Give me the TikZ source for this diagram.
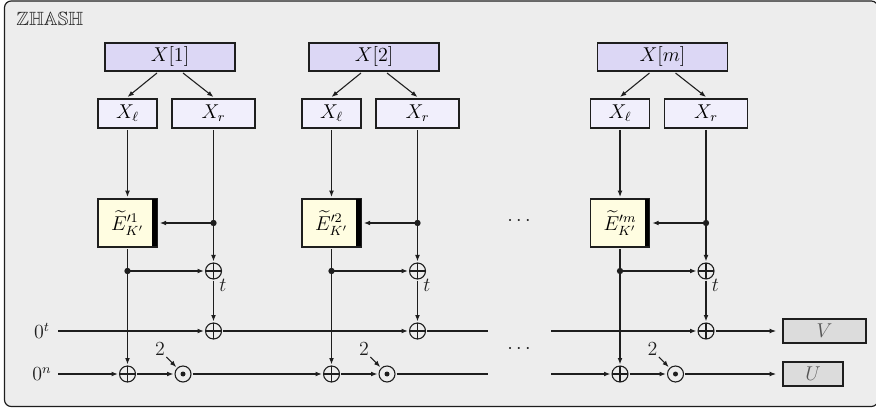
\documentclass[tikz,border=0pt]{standalone}
\usepackage{amssymb}
\usetikzlibrary{arrows.meta}
\definecolor{bgc}{HTML}{EDEDED}
\definecolor{linec}{HTML}{1E1E1E}
\definecolor{xbig}{HTML}{DCD7F5}
\definecolor{xsmall}{HTML}{F1EFFC}
\definecolor{ebox}{HTML}{FFFDE1}
\definecolor{outbox}{HTML}{DCDCDC}
\definecolor{outtext}{HTML}{555555}
\tikzset{
  every node/.append style={font=\fontsize{11.5}{14}\selectfont},
  conn/.style={draw=linec, line width=0.65pt},
  arr/.style={conn, -{Latex[length=3.8pt,width=2.9pt]}},
  bigbox/.style={draw=linec, line width=0.65pt, fill=xbig, minimum width=78pt, minimum height=16.8pt, inner sep=0pt, outer sep=1.2pt},
  lbox/.style={draw=linec, line width=0.65pt, fill=xsmall, minimum width=35.4pt, minimum height=17.4pt, inner sep=0pt, outer sep=1.2pt},
  rbox/.style={draw=linec, line width=0.65pt, fill=xsmall, minimum width=49.8pt, minimum height=17.4pt, inner sep=0pt, outer sep=1.2pt},
  ebx/.style={draw=linec, line width=0.65pt, fill=ebox, minimum width=35.4pt, minimum height=28.8pt, inner sep=0pt, outer sep=1.2pt},
  resbox/.style={draw=linec, line width=0.65pt, fill=outbox, minimum height=14.4pt, inner sep=0pt, outer sep=1.2pt, text=outtext},
  jdot/.style={circle, fill=linec, minimum size=3.8pt, inner sep=0pt},
  xorop/.style={circle, draw=linec, line width=0.65pt, minimum size=9.6pt, inner sep=0pt, outer sep=1pt,
    path picture={\draw[linec, line width=0.65pt] (path picture bounding box.north) -- (path picture bounding box.south)
      (path picture bounding box.west) -- (path picture bounding box.east);}},
  dotop/.style={circle, draw=linec, line width=0.65pt, minimum size=9.6pt, inner sep=0pt, outer sep=1pt,
    path picture={\fill[linec] (path picture bounding box.center) circle (1.5pt);}},
  lab/.style={inner sep=0pt, text=linec},
}
\begin{document}
\begin{tikzpicture}[x=0.6pt,y=-0.6pt]
\useasboundingbox (0,0) rectangle (876,410);
\draw[fill=bgc, draw=linec, line width=0.7pt, rounded corners=4pt] (4.5,1) rectangle (878,406.5);
\node[lab, anchor=west] (title) at (16,19) {$\mathbb{ZHASH}$};

\foreach \d/\i/\s in {0/1/1, 204/2/2, 492.5/3/m} {
  \node[bigbox] (X\i) at (170+\d,57) {$X[\s]$};
  \node[lbox] (Xl\i) at (127.5+\d,113.5) {$X_\ell$};
  \node[rbox] (Xr\i) at (213.5+\d,113.5) {$X_r$};
  \node[ebx] (E\i) at (127.5+\d,223) {$\widetilde{E}^{\prime \s}_{K'}$};
  \fill[black] ([xshift=-3.6pt]E\i.north east) ++(-0.6pt,-1.5pt) rectangle ([xshift=-1.5pt,yshift=1.5pt]E\i.south east);
  \node[jdot] (dr\i) at (213.5+\d,223) {};
  \node[jdot] (dl\i) at (127.5+\d,271) {};
  \node[xorop] (xa\i) at (213.5+\d,271) {};
  \node[xorop] (xt\i) at (213.5+\d,331) {};
  \node[xorop] (xn\i) at (127.5+\d,374) {};
  \node[dotop] (od\i) at (183+\d,374) {};
  \node[lab] (two\i) at (160+\d,349) {$2$};
  \node[lab] (t\i) at (223+\d,285) {$t$};

  \draw[arr] (X\i.south) ++(-7.8pt,0) -- (Xl\i.north);
  \draw[arr] (X\i.south) ++(7.8pt,0) -- (Xr\i.north);
  \draw[arr] (Xl\i) -- (E\i);
  \draw[conn] (Xr\i) -- (dr\i.center);
  \draw[arr, shorten >=0.5pt] (dr\i.center) -- (E\i);
  \draw[arr] (dr\i.center) -- (xa\i);
  \draw[conn] (E\i) -- (dl\i.center);
  \draw[arr] (dl\i.center) -- (xa\i);
  \draw[arr] (dl\i.center) -- (xn\i);
  \draw[arr] (xa\i) -- (xt\i);
  \draw[arr] (xn\i) -- (od\i);
  \draw[arr, shorten <=1pt] (two\i.south east) -- (od\i);
}

\node[lab] (zt) at (42,331) {$0^t$};
\node[lab] (zn) at (42,374) {$0^n$};
\coordinate (st) at (58,331);
\coordinate (sn) at (58,374);
\coordinate (et) at (488,331);
\coordinate (en) at (488,374);
\coordinate (rt) at (551,331);
\coordinate (rn) at (551,374);
\draw[arr] (st) -- (xt1);
\draw[arr] (sn) -- (xn1);
\draw[arr] (xt1) -- (xt2);
\draw[arr] (od1) -- (xn2);
\draw[conn] (xt2) -- (et);
\draw[conn] (od2) -- (en);
\draw[arr] (rt) -- (xt3);
\draw[arr] (rn) -- (xn3);

\node[resbox, minimum width=49.8pt] (V) at (824.5,331) {$V$};
\node[resbox, minimum width=36pt] (U) at (813,374) {$U$};
\draw[arr, shorten >=3pt] (xt3) -- (V);
\draw[arr, shorten >=3pt] (od3) -- (U);

\node[lab] (dots1) at (519,221) {$\cdots$};
\node[lab] (dots2) at (519,349) {$\cdots$};
\end{tikzpicture}
\end{document}
